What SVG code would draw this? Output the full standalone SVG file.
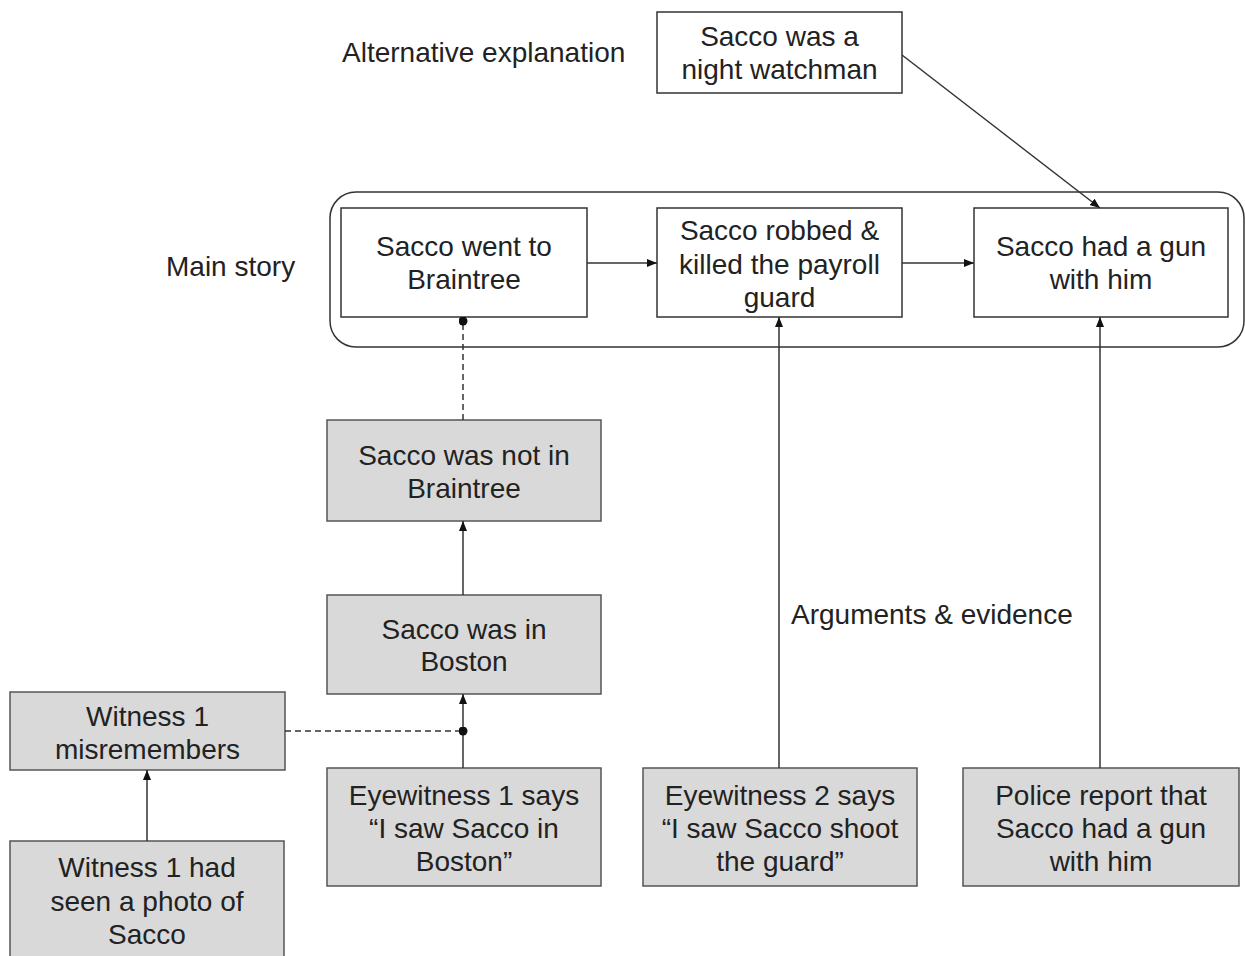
<svg xmlns="http://www.w3.org/2000/svg" width="1245" height="956" viewBox="0 0 1245 956">
<style>
text{font-family:"Liberation Sans",Arial,sans-serif;font-size:28px;fill:#222;text-anchor:middle}
.lbl{text-anchor:start}
.w{fill:#fff;stroke:#333;stroke-width:1.5}
.g{fill:#d9d9d9;stroke:#555;stroke-width:1.5}
.c{fill:none;stroke:#333;stroke-width:1.5}
.d{stroke-dasharray:6 4}
</style>
<defs>
<marker id="ah" viewBox="0 0 10 8" refX="10" refY="4" markerWidth="10" markerHeight="8" markerUnits="userSpaceOnUse" orient="auto">
<path d="M0,0 L10,4 L0,8 z" fill="#111"/>
</marker>
<marker id="dot" viewBox="0 0 10 10" refX="5" refY="5" markerWidth="9" markerHeight="9" markerUnits="userSpaceOnUse">
<circle cx="5" cy="5" r="5" fill="#111"/>
</marker>
</defs>
<rect width="1245" height="956" fill="#fff"/>
<text class="lbl" x="342" y="62">Alternative explanation</text>
<text class="lbl" x="166" y="276">Main story</text>
<text class="lbl" x="791" y="624">Arguments &amp; evidence</text>
<rect id="main-story" x="330" y="192" width="914" height="155" rx="26" fill="none" stroke="#333" stroke-width="1.5"/>
<g id="n-watchman"><rect class="w" x="657" y="12" width="245" height="81"/><text x="779.5" y="46">Sacco was a</text><text x="779.5" y="79">night watchman</text></g>
<g id="n-braintree"><rect class="w" x="341" y="208" width="246" height="109"/><text x="464" y="256">Sacco went to</text><text x="464" y="289">Braintree</text></g>
<g id="n-robbed"><rect class="w" x="657" y="208" width="245" height="109"/><text x="779.5" y="240">Sacco robbed &amp;</text><text x="779.5" y="274">killed the payroll</text><text x="779.5" y="307">guard</text></g>
<g id="n-gun"><rect class="w" x="974" y="208" width="254" height="109"/><text x="1101" y="256">Sacco had a gun</text><text x="1101" y="289">with him</text></g>
<g id="n-notbraintree"><rect class="g" x="327" y="420" width="274" height="101"/><text x="464" y="465">Sacco was not in</text><text x="464" y="498">Braintree</text></g>
<g id="n-boston"><rect class="g" x="327" y="595" width="274" height="99"/><text x="464" y="639">Sacco was in</text><text x="464" y="671">Boston</text></g>
<g id="n-misremembers"><rect class="g" x="10" y="692" width="275" height="78"/><text x="147.5" y="726">Witness 1</text><text x="147.5" y="759">misremembers</text></g>
<g id="n-eyewitness1"><rect class="g" x="327" y="768" width="274" height="118"/><text x="464" y="805">Eyewitness 1 says</text><text x="464" y="838">“I saw Sacco in</text><text x="464" y="871">Boston”</text></g>
<g id="n-photo"><rect class="g" x="10" y="841" width="274" height="125"/><text x="147" y="877">Witness 1 had</text><text x="147" y="911">seen a photo of</text><text x="147" y="944">Sacco</text></g>
<g id="n-eyewitness2"><rect class="g" x="643" y="768" width="274" height="118"/><text x="780" y="805">Eyewitness 2 says</text><text x="780" y="838">“I saw Sacco shoot</text><text x="780" y="871">the guard”</text></g>
<g id="n-police"><rect class="g" x="963" y="768" width="276" height="118"/><text x="1101" y="805">Police report that</text><text x="1101" y="838">Sacco had a gun</text><text x="1101" y="871">with him</text></g>
<g id="connectors">
<line class="c" x1="587" y1="263" x2="657" y2="263" marker-end="url(#ah)"/>
<line class="c" x1="902" y1="263" x2="974" y2="263" marker-end="url(#ah)"/>
<line class="c" x1="902" y1="55" x2="1100" y2="208" marker-end="url(#ah)"/>
<line class="c d" x1="463" y1="420" x2="463" y2="321" marker-end="url(#dot)"/>
<line class="c" x1="463" y1="595" x2="463" y2="521" marker-end="url(#ah)"/>
<line class="c" x1="463" y1="768" x2="463" y2="694" marker-end="url(#ah)"/>
<line class="c d" x1="285" y1="731" x2="463" y2="731" marker-end="url(#dot)"/>
<line class="c" x1="147" y1="841" x2="147" y2="770" marker-end="url(#ah)"/>
<line class="c" x1="779" y1="768" x2="779" y2="317" marker-end="url(#ah)"/>
<line class="c" x1="1100" y1="768" x2="1100" y2="317" marker-end="url(#ah)"/>
</g>
</svg>
